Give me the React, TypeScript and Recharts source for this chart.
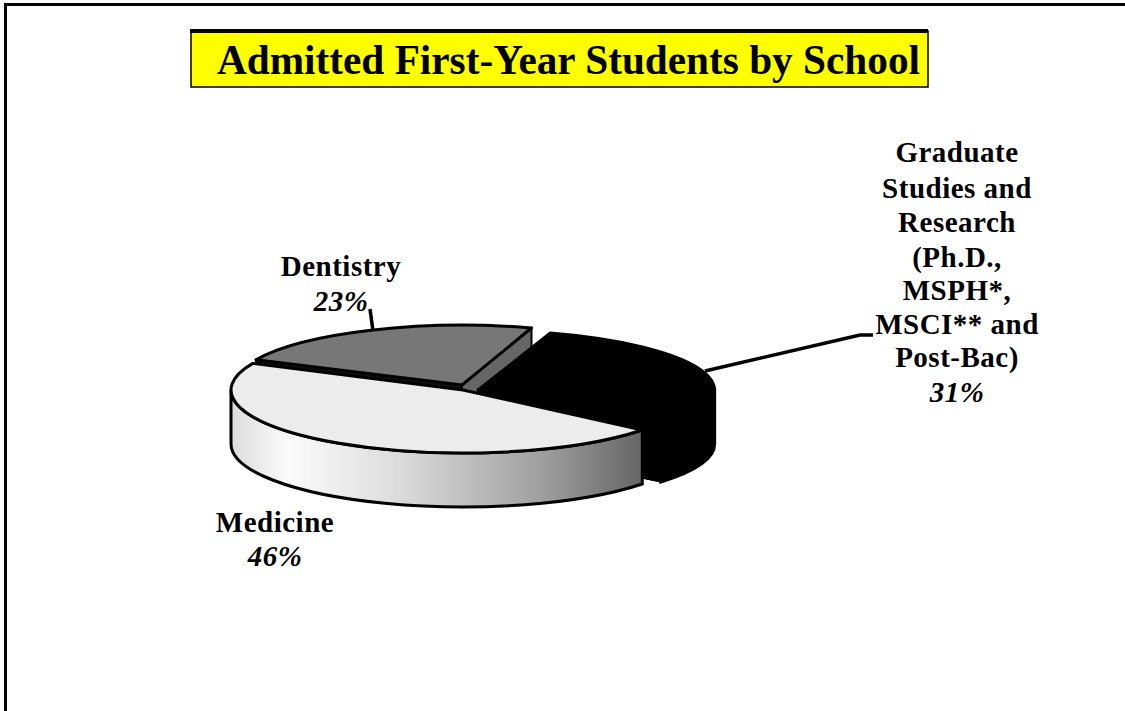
import React from "react";
import { PieChart, Pie } from "recharts";

const categories = ["Dentistry", "Graduate Studies and Research", "Medicine"];
const shares = [23, 31, 46];
const topColors = ["#777777", "#000000", "#ececec"];
const percentLabels = ["23%", "31%", "46%"];
const titleText = "Admitted First-Year Students by School";
const graduateLines = ["Graduate", "Studies and", "Research", "(Ph.D.,", "MSPH*,", "MSCI** and", "Post-Bac)"];

const rows = categories.map((name, i) => ({ name, value: shares[i], fill: topColors[i] }));

const W = 1125;
const H = 711;
const SQUASH = 63 / 232;
const DEPTH = 54;
const OFFSETS = [
  { dx: -1, dy: -5, rx: 0.98, ry: 0.95 },
  { dx: 15, dy: 0, rx: 1.02, ry: 0.95 },
  { dx: 0, dy: 0, rx: 1, ry: 1 },
];
const FONT = '"Liberation Serif", "Times New Roman", serif';

type Geo = { rx: number; ry: number };

const pt = (cx: number, cy: number, g: Geo, deg: number) => {
  const a = (deg * Math.PI) / 180;
  return [cx + g.rx * Math.cos(a), cy - g.ry * Math.sin(a)];
};

const arcTo = (g: Geo, from: number, to: number, cx: number, cy: number) => {
  const [x, y] = pt(cx, cy, g, to);
  const large = Math.abs(to - from) > 180 ? 1 : 0;
  const sweep = to > from ? 0 : 1;
  return `A ${g.rx} ${g.ry} 0 ${large} ${sweep} ${x} ${y}`;
};

const wedge = (cx: number, cy: number, g: Geo, a0: number, a1: number) => {
  const [sx, sy] = pt(cx, cy, g, a0);
  return `M ${cx} ${cy} L ${sx} ${sy} ${arcTo(g, a0, a1, cx, cy)} Z`;
};

const wallRanges = (a0: number, a1: number) => {
  const out: [number, number][] = [];
  for (const off of [-720, -360, 0, 360]) {
    const lo = Math.max(a0, -180 + off);
    const hi = Math.min(a1, off);
    if (hi > lo) out.push([lo, hi]);
  }
  return out;
};

const SliceShape = (props: any) => {
  const { cx, cy, outerRadius: r, startAngle, endAngle, index, fill } = props;
  const a0 = Math.min(startAngle, endAngle);
  const a1 = Math.max(startAngle, endAngle);
  const o = OFFSETS[index] || OFFSETS[2];
  const g: Geo = { rx: r * o.rx, ry: r * SQUASH * o.ry };
  const x = cx + o.dx;
  const y = cy + o.dy;
  const isMed = index === 2;
  const isDent = index === 0;
  const walls = wallRanges(a0, a1).map(([lo, hi]) => {
    const [sx, sy] = pt(x, y, g, lo);
    const [ex, ey] = pt(x, y + DEPTH, g, hi);
    return `M ${sx} ${sy} ${arcTo(g, lo, hi, x, y)} L ${ex} ${ey} ${arcTo(g, hi, lo, x, y + DEPTH)} Z`;
  });
  const stroke = "#000000";
  const [ax, ay] = pt(x, y, g, a1);
  const [bx, by] = pt(x, y, g, a0);
  const faceHi = `M ${x} ${y} L ${ax} ${ay} L ${ax} ${ay + DEPTH} L ${x} ${y + DEPTH} Z`;
  const faceLo = `M ${x} ${y} L ${bx} ${by} L ${bx} ${by + DEPTH} L ${x} ${y + DEPTH} Z`;
  return (
    <g>
      <defs>
        <linearGradient id="wallGradient" x1="0" y1="0" x2="1" y2="0">
          <stop offset="0" stopColor="#dcdcdc" />
          <stop offset="0.14" stopColor="#fbfbfb" />
          <stop offset="0.4" stopColor="#dddddd" />
          <stop offset="0.75" stopColor="#a0a0a0" />
          <stop offset="1" stopColor="#666666" />
        </linearGradient>
      </defs>
      {!isMed && !isDent && (
        <>
          <path d={wedge(x, y + DEPTH, g, a0, a1)} fill="#000" stroke="#000" />
          <path d={faceHi} fill="#000" stroke="#000" />
          <path d={faceLo} fill="#000" stroke="#000" />
        </>
      )}
      {isDent && (
        <>
          <path d={faceHi} fill="#111" stroke="#000" strokeWidth={2} />
          <path d={faceLo} fill="#666" stroke="#000" strokeWidth={2} />
        </>
      )}
      {walls.map((d, i) => (
        <path key={i} d={d} fill={isMed ? "url(#wallGradient)" : fill} stroke={stroke} strokeWidth={3} />
      ))}
      <path d={wedge(x, y, g, a0, a1)} fill={fill} stroke={stroke} strokeWidth={3} strokeLinejoin="round" />
    </g>
  );
};

const textStyle = { fontFamily: FONT, fontWeight: 700, fontSize: 29, letterSpacing: 0.5, fill: "#000" };
const pctStyle = { ...textStyle, fontStyle: "italic" };

const SliceLabel = (props: any) => {
  const { index } = props;
  if (index === 0) {
    return (
      <g>
        <polyline points="373,331 370,309" fill="none" stroke="#000" strokeWidth={3.5} />
        <text x={341} y={276} textAnchor="middle" style={textStyle}>{categories[0]}</text>
        <text x={341} y={311} textAnchor="middle" style={pctStyle}>{percentLabels[0]}</text>
      </g>
    );
  }
  if (index === 1) {
    const baselines = [162, 198, 232, 267, 300, 334, 367];
    return (
      <g>
        <polyline points="705,371 860,335 873,335" fill="none" stroke="#000" strokeWidth={3.5} />
        {graduateLines.map((l, i) => (
          <text key={l} x={957} y={baselines[i]} textAnchor="middle" style={textStyle}>{l}</text>
        ))}
        <text x={957} y={402} textAnchor="middle" style={pctStyle}>{percentLabels[1]}</text>
      </g>
    );
  }
  return (
    <g>
      <text x={275} y={532} textAnchor="middle" style={textStyle}>{categories[2]}</text>
      <text x={275} y={566} textAnchor="middle" style={pctStyle}>{percentLabels[2]}</text>
    </g>
  );
};

export default function App() {
  return (
    <div style={{ position: "absolute", left: 0, top: 0, width: W, height: H, background: "#fff", overflow: "hidden" }}>
      <PieChart width={W} height={H} margin={{ top: 0, right: 0, bottom: 0, left: 0 }}>
        <rect x={5.5} y={4.5} width={W + 20} height={H + 20} fill="#fff" stroke="#000" strokeWidth={3} />
        <rect x={191} y={31} width={737} height={56} fill="#ffff00" stroke="#000" strokeWidth={1.5} />
        <rect x={190} y={29} width={738} height={4} fill="#000" />
        <text x={217} y={74} textLength={703} lengthAdjust="spacingAndGlyphs" style={{ fontFamily: FONT, fontWeight: 700, fontSize: 42, fill: "#000" }}>{titleText}</text>
        <Pie
          data={rows}
          dataKey="value"
          nameKey="name"
          cx={463}
          cy={390}
          innerRadius={0}
          outerRadius={232}
          startAngle={155}
          endAngle={-205}
          paddingAngle={0}
          isAnimationActive={false}
          shape={SliceShape}
          label={SliceLabel}
          labelLine={false}
        />
      </PieChart>
    </div>
  );
}
